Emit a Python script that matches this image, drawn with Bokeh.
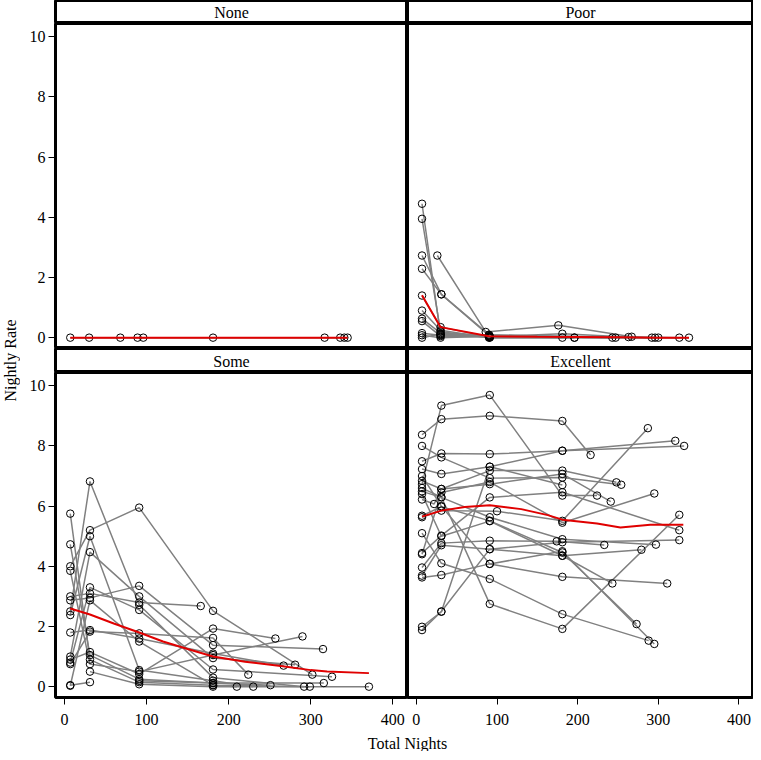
from bokeh.plotting import figure
from bokeh.layouts import row, column
from bokeh.models import Range1d, FixedTicker
from bokeh.core.properties import value
from bokeh.embed import file_html
from bokeh.resources import INLINE
import math

# ---------------- data ----------------
PANEL_NAMES = ["None", "Poor", "Some", "Excellent"]
X_TICKS = [0, 100, 200, 300, 400]
Y_TICKS = [0, 2, 4, 6, 8, 10]
X_TITLE = "Total Nights"
Y_TITLE = "Nightly Rate"

# "None" panel
NONE_X = [[7, 30, 68, 89, 96, 181, 317, 336, 341, 345]]
NONE_Y = [[0, 0, 0, 0, 0, 0, 0, 0, 0, 0]]
NONE_FIT_X = [7, 100, 200, 300, 345]
NONE_FIT_Y = [0, 0, 0, 0, 0]

# "Poor" panel
POOR_X = [
    [7, 30, 90, 181, 263],
    [7, 30, 91, 196],
    [26, 86, 176, 267, 296],
    [7, 31, 91, 243],
    [7, 31, 90, 247],
    [7, 30, 91, 292],
    [7, 30, 90, 300],
    [7, 30, 90, 326],
    [7, 30, 91, 338],
    [7, 30, 181],
    [7, 30, 90],
    [7, 30, 196],
]
POOR_Y = [
    [4.45, 0.10, 0.03, 0.13, 0.02],
    [3.95, 0.20, 0.00, 0.00],
    [2.73, 0.19, 0.41, 0.03, 0.00],
    [2.73, 1.44, 0.05, 0.00],
    [2.29, 1.44, 0.10, 0.00],
    [1.40, 0.35, 0.02, 0.00],
    [0.90, 0.25, 0.00, 0.00],
    [0.63, 0.15, 0.08, 0.00],
    [0.55, 0.05, 0.02, 0.00],
    [0.15, 0.08, 0.00],
    [0.08, 0.00, 0.05],
    [0.00, 0.12, 0.00],
]
POOR_FIT_X = [7, 30, 90, 150, 200, 250, 300, 338]
POOR_FIT_Y = [1.41, 0.35, 0.05, 0.03, 0.02, 0.01, 0.0, 0.0]

# "Some" panel
SOME_X = [
    [7, 31, 91, 181, 210],
    [7, 31, 91, 181, 316],
    [7, 31, 91, 181, 302],
    [7, 31, 91, 181, 290],
    [7, 31, 91, 166],
    [7, 31, 91, 181, 315],
    [7, 31, 91, 181, 292],
    [7, 31, 91, 181, 230],
    [7, 31, 91, 181, 267],
    [7, 31, 91, 181, 281],
    [7, 31, 91, 181, 257],
    [7, 31, 91, 181, 326],
    [7, 31, 91, 181, 224],
    [7, 31],
    [7, 31, 91, 181, 299],
    [31, 91, 181, 371],
    [91, 181, 251],
]
SOME_Y = [
    [5.75, 0.90, 0.15, 0.05, 0.00],
    [4.73, 1.05, 0.25, 0.12, 0.12],
    [4.00, 5.20, 5.95, 2.52, 0.40],
    [3.85, 0.75, 0.50, 1.05, 1.67],
    [3.00, 3.10, 2.80, 2.68],
    [2.87, 2.95, 3.35, 1.38, 1.25],
    [2.50, 6.82, 2.72, 0.30, 0.00],
    [2.38, 5.00, 0.55, 0.20, 0.00],
    [1.80, 1.88, 1.60, 1.10, 0.70],
    [1.00, 4.47, 3.00, 0.95, 0.73],
    [0.90, 1.15, 0.42, 1.93, 1.60],
    [0.80, 3.30, 2.55, 0.57, 0.33],
    [0.75, 1.83, 1.77, 1.62, 0.40],
    [0.05, 0.15],
    [0.03, 2.87, 1.50, 0.05, 0.00],
    [0.50, 0.08, 0.00, 0.00],
    [0.20, 0.12, 0.05],
]
SOME_FIT_X = [7, 31, 60, 91, 120, 150, 181, 220, 266, 300, 320, 371]
SOME_FIT_Y = [2.60, 2.40, 2.10, 1.80, 1.50, 1.25, 1.00, 0.83, 0.68, 0.55, 0.50, 0.45]

# "Excellent" panel
EXC_X = [
    [7, 31, 91, 181, 224],
    [7, 31, 91, 181, 216],
    [7, 31, 91, 181, 254],
    [7, 31, 91, 181, 321],
    [7, 31, 91, 181, 332],
    [7, 31, 91, 181, 248],
    [7, 31, 91, 181, 297],
    [7, 22, 31, 91, 181, 241],
    [7, 31, 91, 181, 273],
    [7, 31, 100, 181, 287],
    [7, 31, 91, 181, 288],
    [7, 31, 91, 181, 326],
    [7, 31, 91, 174, 233],
    [7, 31, 91, 181, 326],
    [7, 31, 91, 181, 311],
    [7, 31, 91, 181],
    [7, 31, 91, 181, 279],
    [7, 31, 91, 181, 326],
    [7, 31, 91, 181, 295],
    [7, 31, 91, 181, 243],
    [7, 31, 91, 181, 295],
]
EXC_Y = [
    [6.73, 9.34, 9.69, 6.35, 6.35],
    [8.37, 8.89, 9.00, 8.83, 7.70],
    [8.00, 7.62, 6.93, 6.95, 6.71],
    [7.49, 7.75, 7.73, 7.84, 8.17],
    [7.23, 7.07, 7.31, 7.84, 8.00],
    [6.84, 6.57, 7.18, 7.18, 6.79],
    [6.49, 6.29, 5.63, 4.90, 4.72],
    [6.22, 6.07, 6.57, 6.73, 7.07, 6.15],
    [5.68, 5.98, 5.51, 4.46, 2.08],
    [5.63, 5.85, 5.83, 5.51, 8.59],
    [5.10, 4.10, 3.58, 2.41, 1.53],
    [4.44, 5.02, 6.29, 6.46, 5.20],
    [3.96, 4.77, 4.85, 4.83, 4.71],
    [3.69, 4.70, 4.57, 4.80, 4.87],
    [3.63, 3.71, 4.08, 3.65, 3.43],
    [1.99, 2.49, 7.31, 6.70],
    [1.88, 2.50, 4.57, 4.35, 4.55],
    [6.60, 6.30, 2.75, 1.92, 5.71],
    [7.00, 6.00, 4.08, 4.50, 1.42],
    [6.40, 5.00, 5.50, 4.35, 3.43],
    [4.40, 6.45, 6.80, 5.45, 6.42],
]
EXC_FIT_X = [7, 31, 60, 91, 130, 163, 181, 224, 253, 290, 331]
EXC_FIT_Y = [5.65, 5.85, 5.97, 6.03, 5.90, 5.70, 5.55, 5.42, 5.29, 5.38, 5.38]

PANEL_X = [NONE_X, POOR_X, SOME_X, EXC_X]
PANEL_Y = [NONE_Y, POOR_Y, SOME_Y, EXC_Y]
FIT_X = [NONE_FIT_X, POOR_FIT_X, SOME_FIT_X, EXC_FIT_X]
FIT_Y = [NONE_FIT_Y, POOR_FIT_Y, SOME_FIT_Y, EXC_FIT_Y]

# ---------------- style / layout ----------------
FONT = value("Liberation Serif")
YLAB_W = 20
AX_W = 35
LEFT_FRAME = 352
RIGHT_FRAME = 346
STRIP_H = 23
STRIP2_H = 24
PLOT_H = 325
XAX_H = 38
XLAB_H = 16
OUTLINE_W = 3

x_range = Range1d(-11, 418)
y_range = Range1d(-0.36, 10.44)


def strip(label, left, h):
    w = (AX_W + LEFT_FRAME) if left else RIGHT_FRAME
    s = figure(width=w, height=h, x_range=(0, 1), y_range=(0, 1),
               x_axis_location=None, y_axis_location=None,
               toolbar_location=None, output_backend="svg",
               min_border_left=AX_W if left else 0, min_border_right=0,
               min_border_top=0, min_border_bottom=0)
    s.grid.visible = False
    s.outline_line_color = "black"
    s.outline_line_width = OUTLINE_W
    s.text(x=[0.5], y=[0.47], text=[label], text_font=FONT, text_font_size="16px",
           text_align="center", text_baseline="middle", text_color="black")
    return s


def panel(i, left, bottom):
    w = (AX_W + LEFT_FRAME) if left else RIGHT_FRAME
    h = PLOT_H + (XAX_H if bottom else 0)
    p = figure(width=w, height=h, x_range=x_range, y_range=y_range,
               x_axis_location="below" if bottom else None,
               y_axis_location="left" if left else None,
               toolbar_location=None, output_backend="svg",
               min_border_left=AX_W if left else 0, min_border_right=0,
               min_border_top=0, min_border_bottom=XAX_H if bottom else 0)
    p.grid.visible = False
    p.outline_line_color = "black"
    p.outline_line_width = OUTLINE_W
    for ax in p.axis:
        ax.axis_line_color = None
        ax.major_tick_in = 0
        ax.major_tick_out = 7
        ax.major_tick_line_color = "black"
        ax.minor_tick_line_color = None
        ax.major_label_text_font = "Liberation Serif"
        ax.major_label_text_font_size = "16px"
        ax.major_label_text_color = "black"
        ax.major_label_standoff = 3
    if bottom:
        p.xaxis.ticker = FixedTicker(ticks=X_TICKS)
        p.xaxis.major_label_standoff = 9
    if left:
        p.yaxis.ticker = FixedTicker(ticks=Y_TICKS)
    xs, ys = PANEL_X[i], PANEL_Y[i]
    p.multi_line(xs=xs, ys=ys, line_color="#808080", line_width=1.5)
    allx = [v for s in xs for v in s]
    ally = [v for s in ys for v in s]
    p.scatter(x=allx, y=ally, size=7.5, marker="circle", fill_color=None,
              line_color="black", line_width=1)
    p.line(x=FIT_X[i], y=FIT_Y[i], line_color="#e00000", line_width=2)
    return p


top_strips = row(strip(PANEL_NAMES[0], True, STRIP_H), strip(PANEL_NAMES[1], False, STRIP_H))
top_plots = row(panel(0, True, False), panel(1, False, False))
bot_strips = row(strip(PANEL_NAMES[2], True, STRIP2_H), strip(PANEL_NAMES[3], False, STRIP2_H))
bot_plots = row(panel(2, True, True), panel(3, False, True))

total_h = STRIP_H + STRIP2_H + PLOT_H * 2 + XAX_H + XLAB_H
grid_w = AX_W + LEFT_FRAME + RIGHT_FRAME

xlab = figure(width=grid_w, height=XLAB_H, x_range=(0, grid_w), y_range=(0, XLAB_H),
              x_axis_location=None, y_axis_location=None, toolbar_location=None,
              output_backend="svg", min_border=0)
xlab.grid.visible = False
xlab.outline_line_color = None
xlab.text(x=[AX_W + LEFT_FRAME], y=[XLAB_H / 2], text=[X_TITLE], text_font=FONT,
          text_font_size="16px", text_align="center", text_baseline="middle",
          text_color="black")

ylab = figure(width=YLAB_W, height=total_h, x_range=(0, YLAB_W), y_range=(0, total_h),
              x_axis_location=None, y_axis_location=None, toolbar_location=None,
              output_backend="svg", min_border=0)
ylab.grid.visible = False
ylab.outline_line_color = None
ylab.text(x=[YLAB_W / 2], y=[total_h - (STRIP_H + PLOT_H + STRIP2_H / 2)], text=[Y_TITLE],
          text_font=FONT, text_font_size="16px", text_align="center",
          text_baseline="middle", angle=math.pi / 2, text_color="black")

layout = row(ylab, column(top_strips, top_plots, bot_strips, bot_plots, xlab))

open("out.html", "w").write(file_html(layout, INLINE))
